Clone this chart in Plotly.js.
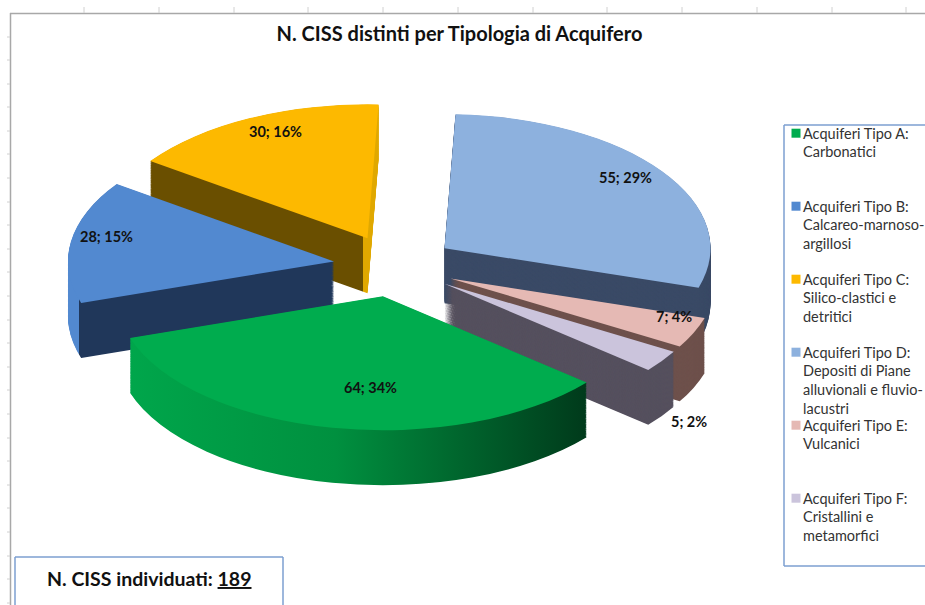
<!DOCTYPE html>
<html>
<head>
<meta charset="utf-8">
<script src="https://cdn.plot.ly/plotly-3.0.1.min.js"></script>
<style>html,body{margin:0;padding:0;background:#fff;overflow:hidden}</style>
</head>
<body>
<div id="chart" style="width:925px;height:605px"></div>
<script>
const categories = [
  'Acquiferi Tipo A:<br>Carbonatici<br> <br> ',
  'Acquiferi Tipo B:<br>Calcareo-marnoso-<br>argillosi<br> ',
  'Acquiferi Tipo C:<br>Silico-clastici e<br>detritici<br> ',
  'Acquiferi Tipo D:<br>Depositi di Piane<br>alluvionali e fluvio-<br>lacustri',
  'Acquiferi Tipo E:<br>Vulcanici<br> <br> ',
  'Acquiferi Tipo F:<br>Cristallini e<br>metamorfici<br> '
];
const values = [64, 28, 30, 55, 7, 5];
const percents = [34, 15, 16, 29, 4, 2];
const topColors = ['#00ac4e', '#5289d0', '#fdb900', '#8db1de', '#e5b9b4', '#cbc4dc'];
const wallColors = ['#00803c', '#20375a', '#6a4f00', '#3a4a66', '#6e514c', '#55505e'];

const W = 925, H = 605;
const PULL = 0.23, ROT = 130;
const SX = 1.33, SY = 0.67, TX = 394.5 - SX * 462.5, CY = 266;
const DEPTH = 82, STEP = 1.25;
const DOM = 492 / H;

function pieTrace(shift, colors, legend) {
  return {
    type: 'pie', labels: categories, values: values, sort: false,
    direction: 'clockwise', rotation: ROT, pull: PULL,
    marker: {colors: colors, line: {width: 0}},
    textinfo: 'none', hoverinfo: 'skip', showlegend: legend,
    domain: {x: [0.5 - 246 / W, 0.5 + 246 / W], y: [1 - DOM - shift / H, 1 - shift / H]}
  };
}
const traces = [];
for (let s = DEPTH; s > 0; s -= STEP) traces.push(pieTrace(s, wallColors, false));
traces.push(pieTrace(0, topColors, true));

const labelPos = [[370, 388], [106, 236], [275, 132], [625, 177], [674, 316], [689, 421]];
const annotations = labelPos.map((p, i) => ({
  xref: 'paper', yref: 'paper', x: p[0] / W, y: 1 - p[1] / H, showarrow: false,
  xanchor: 'center', yanchor: 'middle',
  text: '<b>' + values[i] + '; ' + percents[i] + '%</b>',
  font: {family: 'Lato, sans-serif', size: 14.5, color: '#111'}
}));
annotations.push({
  xref: 'paper', yref: 'paper', x: 149.5 / W, y: 1 - 578 / H, showarrow: false,
  xanchor: 'center', yanchor: 'middle',
  text: '<b>N. CISS individuati: <span style="text-decoration:underline">' + 189 + '</span></b>',
  font: {family: 'Lato, sans-serif', size: 19.5, color: '#111'}
});

const gray = '#a8a8a8', boxBlue = '#7d9fd0';
const px = (x0, y0, x1, y1, color, width) => ({
  type: 'line', xref: 'paper', yref: 'paper', layer: 'below',
  x0: x0 / W, x1: x1 / W, y0: 1 - y0 / H, y1: 1 - y1 / H,
  line: {color: color, width: width}
});
const shapes = [px(10, 13.5, W, 13.5, gray, 1.5), px(10.5, 13, 10.5, H, gray, 1.5)];
[84, 159, 234, 308, 383, 458, 533, 607, 682, 757, 832, 906].forEach(x => shapes.push(px(x, 7, x, 13, '#d0d0d0', 1)));
[37, 60, 84, 107, 131, 154, 178, 202, 225, 249, 272, 296, 320, 343, 367, 390, 414, 438, 461, 485, 508, 532, 556, 579, 603]
  .forEach(y => shapes.push(px(7, y, 10, y, '#d0d0d0', 1)));
shapes.push(px(784, 125, W, 125, boxBlue, 1.5), px(784, 125, 784, 566, boxBlue, 1.5), px(784, 566, W, 566, boxBlue, 1.5));
shapes.push(px(15, 557, 283, 557, boxBlue, 1.5), px(15, 557, 15, H, boxBlue, 1.5), px(283, 557, 283, H, boxBlue, 1.5));

const layout = {
  width: W, height: H, margin: {l: 0, r: 0, t: 0, b: 0, autoexpand: false},
  paper_bgcolor: '#fff', plot_bgcolor: '#fff',
  title: {text: '<b>N. CISS distinti per Tipologia di Acquifero</b>', x: 459.5 / W, xanchor: 'center',
          y: 1 - 34 / H, yanchor: 'middle', font: {family: 'Lato, sans-serif', size: 20, color: '#111'}},
  showlegend: true,
  legend: {x: 763 / W, xanchor: 'left', y: 1 - 117 / H, yanchor: 'top', bgcolor: 'rgba(0,0,0,0)',
           itemclick: false, itemdoubleclick: false, traceorder: 'normal',
           font: {family: 'Lato, sans-serif', size: 14.5, color: '#333'}},
  annotations: annotations, shapes: shapes
};

Plotly.newPlot('chart', traces, layout, {displayModeBar: false, staticPlot: true}).then(gd => {
  const svg = gd.querySelector('svg.main-svg');
  const defs = svg.querySelector('defs');
  const NS = 'http://www.w3.org/2000/svg';
  function grad(id, stops) {
    const g = document.createElementNS(NS, 'linearGradient');
    g.setAttribute('id', id);
    stops.forEach(s => {
      const st = document.createElementNS(NS, 'stop');
      st.setAttribute('offset', s[0]);
      st.setAttribute('stop-color', s[1]);
      g.appendChild(st);
    });
    defs.appendChild(g);
  }
  grad('wallA', [[0, '#00a64b'], [0.45, '#00903f'], [1, '#003a1b']]);
  grad('wallB', [[0, topColors[1]], [0.04, topColors[1]], [0.04, wallColors[1]], [1, wallColors[1]]]);
  grad('wallC', [[0, wallColors[2]], [0.93, wallColors[2]], [0.93, '#e0a800'], [1, '#e0a800']]);
  const pies = gd.querySelectorAll('.pielayer .trace');
  pies.forEach((t, i) => {
    if (i === pies.length - 1) return;
    const paths = t.querySelectorAll('.slice path.surface');
    paths[0].style.fill = 'url(#wallA)';
    paths[1].style.fill = 'url(#wallB)';
    paths[2].style.fill = 'url(#wallC)';
  });
  const layer = gd.querySelector('.pielayer');
  const y0 = 246;
  layer.setAttribute('transform', 'translate(' + TX + ',' + (CY - SY * y0) + ') scale(' + SX + ',' + SY + ')');
  const items = gd.querySelectorAll('.legend .traces');
  const first = +(items[0].getAttribute('transform').match(/,\s*([-\d.]+)/) || [0, 0])[1];
  items.forEach((it, i) => {
    it.setAttribute('transform', 'translate(0,' + (first + i * 73) + ')');
    it.querySelectorAll('.legendpoints path').forEach(p => {
      p.setAttribute('transform', 'translate(33,-28) scale(0.75)');
    });
  });
});
</script>
</body>
</html>
